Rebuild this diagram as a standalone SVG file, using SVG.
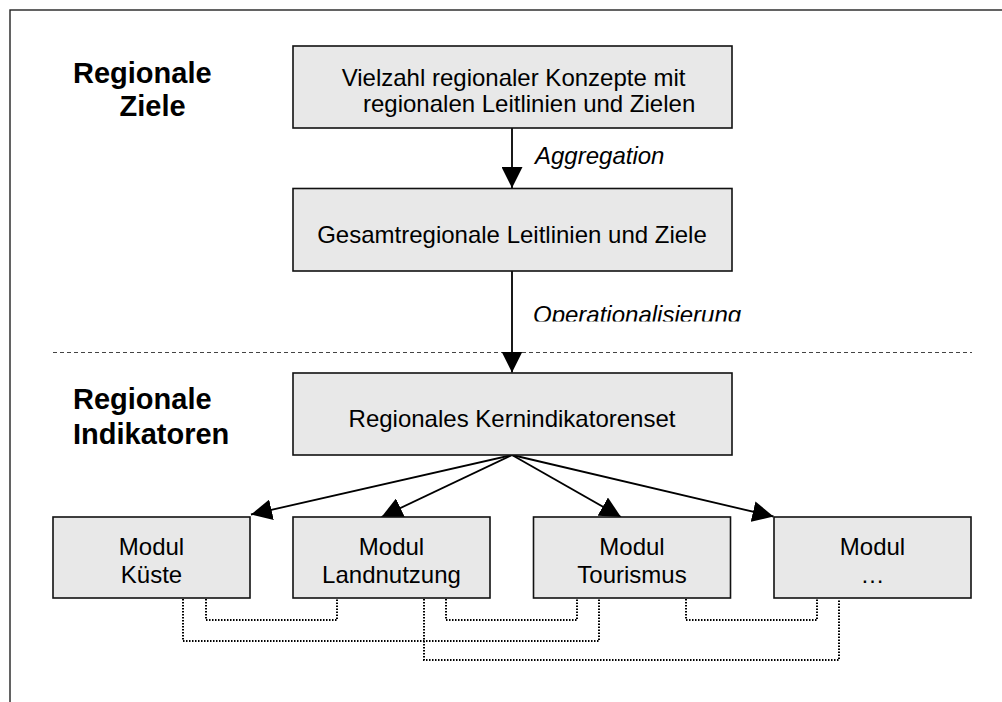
<svg xmlns="http://www.w3.org/2000/svg" width="1002" height="702" viewBox="0 0 1002 702">
  <style>
    .box { fill: #e8e8e8; stroke: #111; stroke-width: 1.6; }
    .t { font-family: "Liberation Sans", Arial, sans-serif; font-size: 24px; fill: #000; }
    .c { text-anchor: middle; }
    .lbl { font-family: "Liberation Sans", Arial, sans-serif; font-size: 29px; font-weight: bold; fill: #000; }
    .it { font-family: "Liberation Sans", Arial, sans-serif; font-size: 24px; font-style: italic; fill: #000; }
    .arr { stroke: #000; stroke-width: 1.8; fill: none; }
    .dot { stroke: #000; stroke-width: 2; fill: none; stroke-dasharray: 1.5 1.5; }
  </style>
  <defs>
    <marker id="ah" markerUnits="userSpaceOnUse" markerWidth="21" markerHeight="21" viewBox="0 0 21 21" refX="21" refY="10.5" orient="auto">
      <path d="M0,0 L21,10.5 L0,21 Z" fill="#000"/>
    </marker>
    <clipPath id="opclip"><rect x="520" y="290" width="260" height="31.5"/></clipPath>
  </defs>
  <rect width="1002" height="702" fill="#fff"/>
  <rect x="10" y="10" width="1100" height="800" fill="none" stroke="#222" stroke-width="1.4"/>

  <g id="label-ziele">
    <text class="lbl" x="73" y="83">Regionale</text>
    <text class="lbl" x="119.5" y="115.5">Ziele</text>
  </g>
  <g id="label-indikatoren">
    <text class="lbl" x="73" y="409">Regionale</text>
    <text class="lbl" x="73" y="444">Indikatoren</text>
  </g>

  <line x1="53" y1="352.5" x2="972" y2="352.5" stroke="#444" stroke-width="1" stroke-dasharray="4 3"/>

  <g id="connectors">
    <line class="arr" x1="512" y1="128" x2="512" y2="188" marker-end="url(#ah)"/>
    <line class="arr" x1="512" y1="271" x2="512" y2="372.5" marker-end="url(#ah)"/>
    <line class="arr" x1="512" y1="455" x2="251" y2="514.5" marker-end="url(#ah)"/>
    <line class="arr" x1="512" y1="455" x2="381.5" y2="517" marker-end="url(#ah)"/>
    <line class="arr" x1="512" y1="455" x2="621" y2="517" marker-end="url(#ah)"/>
    <line class="arr" x1="512" y1="455" x2="773.5" y2="516.5" marker-end="url(#ah)"/>
    <polyline class="dot" points="206,599 206,620 337,620 337,599"/>
    <polyline class="dot" points="446,599 446,620 577,620 577,599"/>
    <polyline class="dot" points="686,599 686,620 817,620 817,599"/>
    <polyline class="dot" points="183,599 183,641 599,641 599,599"/>
    <polyline class="dot" points="424,599 424,660 839,660 839,599"/>
    <text class="it" x="535" y="164">Aggregation</text>
    <text class="it" x="533" y="323" clip-path="url(#opclip)">Operationalisierung</text>
  </g>

  <g id="konzepte">
    <rect class="box" x="293" y="46" width="439" height="82"/>
    <text class="t" x="341.7" y="86">Vielzahl regionaler Konzepte mit</text>
    <text class="t" x="363" y="112">regionalen Leitlinien und Zielen</text>
  </g>
  <g id="gesamtregional">
    <rect class="box" x="293" y="188.5" width="439" height="82.5"/>
    <text class="t c" x="512" y="243">Gesamtregionale Leitlinien und Ziele</text>
  </g>
  <g id="kernindikatoren">
    <rect class="box" x="293" y="373" width="439" height="82"/>
    <text class="t c" x="512" y="427">Regionales Kernindikatorenset</text>
  </g>
  <g id="modul-kueste">
    <rect class="box" x="53" y="517" width="197" height="81"/>
    <text class="t c" x="151.5" y="555">Modul</text>
    <text class="t c" x="151.5" y="583">Küste</text>
  </g>
  <g id="modul-landnutzung">
    <rect class="box" x="293" y="517" width="197" height="81"/>
    <text class="t c" x="391.5" y="555">Modul</text>
    <text class="t c" x="391.5" y="583">Landnutzung</text>
  </g>
  <g id="modul-tourismus">
    <rect class="box" x="533.5" y="517" width="197" height="81"/>
    <text class="t c" x="632" y="555">Modul</text>
    <text class="t c" x="632" y="583">Tourismus</text>
  </g>
  <g id="modul-weitere">
    <rect class="box" x="774" y="517" width="197" height="81"/>
    <text class="t c" x="872.5" y="555">Modul</text>
    <text class="t c" x="872.5" y="583">…</text>
  </g>
</svg>
